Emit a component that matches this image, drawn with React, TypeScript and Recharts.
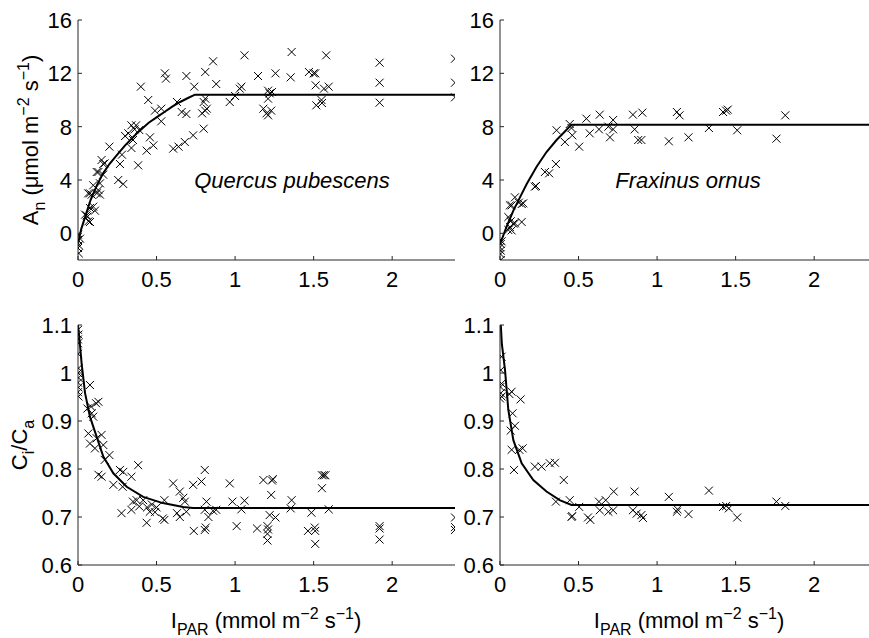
import { ComposedChart, Line, Scatter, XAxis, YAxis } from "recharts";

// ticks
const X_TICKS = [0, 0.5, 1, 1.5, 2];
const AN_TICKS = [0, 4, 8, 12, 16];
const CI_TICKS = [0.6, 0.7, 0.8, 0.9, 1, 1.1];

// Quercus pubescens, net assimilation (I_PAR, A_n)
const quercusAn: [number, number][] = [
  [0, -0.1], [0, -0.5], [0.005, -0.9], [0, -1.1], [0.005, -1.5], [0.013, -0.4],
  [0.06, 1.25], [0.066, 0.9], [0.076, 0.85], [0.055, 1.35], [0.045, 1.4], [0.076, 1.9], [0.097, 2.0], [0.108, 1.7],
  [0.076, 3.0], [0.087, 2.9], [0.065, 3.0], [0.12, 3.0], [0.097, 3.6], [0.13, 3.25], [0.14, 2.9], [0.14, 3.75],
  [0.13, 4.6], [0.16, 4.4], [0.119, 4.6], [0.161, 5.2], [0.17, 5.25], [0.15, 5.5], [0.2, 6.5],
  [0.256, 4.0], [0.288, 3.7], [0.267, 5.2], [0.28, 5.9], [0.3, 7.3], [0.34, 6.4], [0.35, 7.0], [0.32, 7.5],
  [0.34, 8.1], [0.37, 8.1], [0.39, 7.75], [0.36, 7.8],
  [0.383, 5.1], [0.4, 11.0], [0.447, 10.0], [0.437, 6.2], [0.458, 7.2], [0.48, 6.6], [0.49, 9.2], [0.53, 9.35],
  [0.53, 8.4], [0.553, 12.0], [0.56, 11.6],
  [0.606, 6.35], [0.64, 6.5], [0.68, 6.85], [0.733, 7.35], [0.63, 9.85], [0.66, 9.1], [0.69, 8.95], [0.69, 11.8], [0.74, 11.0],
  [0.81, 12.1], [0.86, 12.9], [0.88, 11.2], [0.8, 7.85], [0.79, 9.0], [0.81, 9.2], [0.8, 9.85], [0.82, 9.35], [0.81, 10.1],
  [0.966, 9.85], [1.0, 10.3], [1.03, 10.85], [1.04, 11.0], [1.06, 13.35], [1.146, 11.8],
  [1.18, 9.35], [1.2, 9.0], [1.21, 8.85], [1.23, 9.2], [1.21, 10.7], [1.22, 10.5], [1.235, 10.6], [1.21, 10.1],
  [1.257, 12.0], [1.36, 13.6], [1.354, 11.7], [1.47, 12.1], [1.5, 12.0], [1.51, 12.0], [1.513, 11.1], [1.517, 9.6],
  [1.553, 9.77], [1.55, 10.0], [1.566, 10.85], [1.596, 11.0], [1.58, 13.35],
  [1.92, 12.8], [1.92, 11.3], [1.92, 9.8], [2.4, 13.1], [2.4, 11.3], [2.4, 10.2],
];
const quercusAnFit: [number, number][] = [
  [0, -0.8], [0.02, 0.3], [0.05, 1.4], [0.08, 2.5], [0.12, 3.6], [0.16, 4.5], [0.2, 5.2], [0.25, 5.9],
  [0.3, 6.6], [0.375, 7.5], [0.45, 8.3], [0.5, 8.7], [0.55, 9.1], [0.6, 9.5], [0.65, 9.85], [0.7, 10.15],
  [0.745, 10.4], [2.4, 10.4],
];

// Fraxinus ornus, net assimilation
const fraxinusAn: [number, number][] = [
  [0, -0.5], [0.005, -0.8], [0, -1.05], [0.005, -1.3], [0.003, -1.55], [0.005, -2.0], [0.01, -0.6],
  [0.053, 0.25], [0.068, 0.9], [0.074, 0.22], [0.085, 0.73], [0.063, 0.47], [0.138, 0.85], [0.053, 1.22], [0.095, 0.75],
  [0.074, 2.1], [0.095, 2.7], [0.063, 2.1], [0.12, 2.3], [0.138, 2.2], [0.148, 2.25],
  [0.222, 3.5], [0.229, 3.55], [0.286, 4.6], [0.313, 4.5], [0.356, 5.2], [0.36, 7.73], [0.413, 6.85], [0.444, 8.2],
  [0.455, 7.9], [0.46, 7.35], [0.504, 6.5],
  [0.55, 8.6], [0.571, 7.5], [0.635, 8.9], [0.63, 7.8], [0.69, 8.0], [0.7, 7.2], [0.72, 8.5], [0.72, 7.8],
  [0.846, 8.9], [0.857, 7.8], [0.88, 7.0], [0.9, 7.0], [0.906, 9.05],
  [1.075, 6.9], [1.126, 9.1], [1.143, 8.85], [1.2, 7.2], [1.33, 7.9], [1.42, 9.1], [1.45, 9.28], [1.44, 9.2],
  [1.51, 7.73], [1.76, 7.1], [1.816, 8.85],
];
const fraxinusAnFit: [number, number][] = [
  [0, -0.8], [0.01, -0.5], [0.042, 0.5], [0.085, 1.7], [0.127, 2.7], [0.17, 3.7], [0.233, 5.0], [0.296, 6.1],
  [0.36, 7.0], [0.41, 7.6], [0.455, 8.15], [2.4, 8.15],
];

// Quercus pubescens, Ci/Ca
const quercusCi: [number, number][] = [
  [0, 1.09], [0.003, 1.08], [0, 1.07], [0, 1.062], [0, 1.04], [0.003, 1.01], [0, 1.0], [0.003, 0.99], [0, 0.98],
  [0.003, 0.97], [0, 0.96], [0.003, 0.951],
  [0.076, 0.975], [0.06, 0.926], [0.083, 0.93], [0.087, 0.916], [0.097, 0.909], [0.115, 0.937], [0.13, 0.94],
  [0.066, 0.874], [0.076, 0.853], [0.108, 0.843], [0.15, 0.871], [0.119, 0.864], [0.161, 0.85], [0.2, 0.829],
  [0.17, 0.819], [0.13, 0.788], [0.15, 0.784],
  [0.225, 0.767], [0.267, 0.798], [0.288, 0.794], [0.34, 0.784], [0.284, 0.763], [0.383, 0.808], [0.277, 0.708],
  [0.34, 0.715], [0.35, 0.732], [0.373, 0.735], [0.39, 0.722], [0.415, 0.735], [0.437, 0.688], [0.44, 0.72],
  [0.457, 0.711], [0.47, 0.726], [0.49, 0.71], [0.5, 0.72], [0.54, 0.697], [0.55, 0.694], [0.55, 0.735],
  [0.606, 0.77], [0.648, 0.753], [0.67, 0.74], [0.68, 0.732], [0.63, 0.708], [0.648, 0.7], [0.69, 0.711],
  [0.733, 0.767], [0.786, 0.774], [0.807, 0.798],
  [0.737, 0.671], [0.807, 0.673], [0.813, 0.678], [0.818, 0.732], [0.807, 0.715], [0.83, 0.7], [0.86, 0.713], [0.88, 0.715],
  [0.966, 0.77], [0.983, 0.732], [1.01, 0.681], [1.04, 0.716], [1.06, 0.734],
  [1.14, 0.676], [1.18, 0.777], [1.235, 0.776], [1.24, 0.779], [1.23, 0.746], [1.22, 0.704], [1.257, 0.699],
  [1.206, 0.681], [1.21, 0.674], [1.206, 0.665], [1.206, 0.651],
  [1.36, 0.735], [1.354, 0.718], [1.486, 0.709], [1.464, 0.671], [1.507, 0.678], [1.51, 0.671], [1.51, 0.644],
  [1.553, 0.76], [1.553, 0.787], [1.575, 0.787], [1.565, 0.787], [1.596, 0.716],
  [1.92, 0.681], [1.92, 0.676], [1.92, 0.653], [2.4, 0.699], [2.4, 0.679], [2.4, 0.673],
];
const quercusCiFit: [number, number][] = [
  [0, 1.1], [0.012, 1.06], [0.023, 1.02], [0.045, 0.958], [0.076, 0.909], [0.119, 0.867], [0.161, 0.826],
  [0.225, 0.791], [0.31, 0.763], [0.415, 0.742], [0.54, 0.729], [0.67, 0.721], [0.733, 0.719], [2.4, 0.719],
];

// Fraxinus ornus, Ci/Ca
const fraxinusCi: [number, number][] = [
  [0.01, 1.034], [0.005, 1.006], [0.01, 0.978], [0.003, 0.971], [0.005, 0.958], [0.01, 0.951], [0, 0.947],
  [0.074, 0.961], [0.06, 0.956], [0.131, 0.945], [0.08, 0.916], [0.095, 0.89], [0.068, 0.88], [0.074, 0.84],
  [0.089, 0.798], [0.123, 0.84], [0.144, 0.843],
  [0.222, 0.805], [0.265, 0.805], [0.317, 0.812], [0.35, 0.813], [0.406, 0.777], [0.356, 0.732], [0.444, 0.735],
  [0.455, 0.7], [0.46, 0.702], [0.504, 0.721], [0.56, 0.699], [0.575, 0.694],
  [0.63, 0.732], [0.673, 0.735], [0.635, 0.714], [0.69, 0.711], [0.72, 0.714], [0.724, 0.753], [0.857, 0.753],
  [0.846, 0.714], [0.87, 0.707], [0.9, 0.704], [0.91, 0.698],
  [1.075, 0.742], [1.13, 0.716], [1.126, 0.711], [1.2, 0.706], [1.33, 0.755], [1.42, 0.721], [1.44, 0.723],
  [1.457, 0.718], [1.51, 0.699], [1.76, 0.732], [1.816, 0.723],
];
const fraxinusCiFit: [number, number][] = [
  [0.005, 1.1], [0.012, 1.06], [0.032, 1.006], [0.053, 0.923], [0.085, 0.86], [0.138, 0.812], [0.212, 0.777],
  [0.296, 0.753], [0.38, 0.735], [0.455, 0.725], [2.4, 0.725],
];

const FONT = "'Liberation Sans', Arial, Helvetica, sans-serif";
const AXIS = "#262626";
const FS = 22;

const toRows = (arr: [number, number][]) => arr.map(([x, y]) => ({ x, y }));

function XTick(props: any) {
  const { x, y, payload } = props;
  return (
    <g>
      <line x1={x} x2={x} y1={y} y2={y - 4} stroke={AXIS} />
      <text x={x} y={y + 27} textAnchor="middle" fontSize={FS} fontFamily={FONT} fill="#000">
        {String(payload.value)}
      </text>
    </g>
  );
}

function YTick(props: any) {
  const { x, y, payload } = props;
  return (
    <g>
      <line x1={x} x2={x + 4} y1={y} y2={y} stroke={AXIS} />
      <text x={x - 6} y={y} dy="0.36em" textAnchor="end" fontSize={FS} fontFamily={FONT} fill="#000">
        {String(payload.value)}
      </text>
    </g>
  );
}

function Cross(props: any) {
  const { cx, cy } = props;
  if (cx == null || cy == null) return null;
  const r = 4;
  return (
    <path
      d={`M${cx - r},${cy - r}L${cx + r},${cy + r}M${cx - r},${cy + r}L${cx + r},${cy - r}`}
      stroke="#000"
      strokeWidth={1}
      fill="none"
    />
  );
}

type Part = [string, number]; // 0 normal, 1 superscript, -1 subscript

function Rich({ x, y, parts, rotate, italic }: { x: number; y: number; parts: Part[]; rotate?: boolean; italic?: boolean }) {
  let prev = 0;
  return (
    <text
      x={x}
      y={y}
      textAnchor="middle"
      fontFamily={FONT}
      fontSize={FS}
      fontStyle={italic ? "italic" : "normal"}
      fill="#000"
      transform={rotate ? `rotate(-90 ${x} ${y})` : undefined}
    >
      {parts.map(([t, k], i) => {
        const shift = k === 1 ? -9 : k === -1 ? 7 : 0;
        const dy = shift - prev;
        prev = shift;
        return (
          <tspan key={i} dy={dy} fontSize={k ? 16 : FS}>
            {t}
          </tspan>
        );
      })}
    </text>
  );
}

function Panel({
  left,
  top,
  points,
  fit,
  yDomain,
  yTicks,
}: {
  left: number;
  top: number;
  points: [number, number][];
  fit: [number, number][];
  yDomain: [number, number];
  yTicks: number[];
}) {
  return (
    <div style={{ position: "absolute", left, top }}>
      <ComposedChart width={460} height={300} margin={{ top: 20, right: 5, bottom: 0, left: 0 }}>
        <XAxis
          type="number"
          dataKey="x"
          domain={[0, 2.4]}
          ticks={X_TICKS}
          allowDataOverflow
          tick={<XTick />}
          tickLine={false}
          tickSize={0}
          tickMargin={0}
          axisLine={{ stroke: AXIS }}
          height={40}
        />
        <YAxis
          type="number"
          dataKey="y"
          domain={yDomain}
          ticks={yTicks}
          allowDataOverflow
          tick={<YTick />}
          tickLine={false}
          tickSize={0}
          tickMargin={0}
          axisLine={{ stroke: AXIS }}
          width={78}
        />
        <Line
          data={toRows(fit)}
          dataKey="y"
          type="linear"
          stroke="#000"
          strokeWidth={2}
          dot={false}
          activeDot={false}
          isAnimationActive={false}
        />
        <Scatter data={toRows(points)} dataKey="y" shape={<Cross />} isAnimationActive={false} />
      </ComposedChart>
    </div>
  );
}

const UNITS_TAIL: Part[] = [[" m", 0], ["\u22122", 1], [" s", 0], ["\u22121", 1], [")", 0]];

export default function App() {
  return (
    <div
      style={{
        position: "fixed",
        left: 0,
        top: 0,
        width: 869,
        height: 638,
        overflow: "hidden",
        background: "#fff",
        fontFamily: FONT,
      }}
    >
      <Panel left={0} top={0} points={quercusAn} fit={quercusAnFit} yDomain={[-2, 16]} yTicks={AN_TICKS} />
      <Panel left={422} top={0} points={fraxinusAn} fit={fraxinusAnFit} yDomain={[-2, 16]} yTicks={AN_TICKS} />
      <Panel left={0} top={305} points={quercusCi} fit={quercusCiFit} yDomain={[0.6, 1.1]} yTicks={CI_TICKS} />
      <Panel left={422} top={305} points={fraxinusCi} fit={fraxinusCiFit} yDomain={[0.6, 1.1]} yTicks={CI_TICKS} />
      <svg width={869} height={638} style={{ position: "absolute", left: 0, top: 0, pointerEvents: "none" }}>
        <Rich x={38} y={140} rotate parts={[["A", 0], ["n", -1], [" (\u03bcmol", 0], ...UNITS_TAIL]} />
        <Rich x={27} y={445} rotate parts={[["C", 0], ["i", -1], ["/C", 0], ["a", -1]]} />
        <Rich x={266} y={628} parts={[["I", 0], ["PAR", -1], [" (mmol", 0], ...UNITS_TAIL]} />
        <Rich x={689} y={628} parts={[["I", 0], ["PAR", -1], [" (mmol", 0], ...UNITS_TAIL]} />
        <Rich x={292} y={188} italic parts={[["Quercus pubescens", 0]]} />
        <Rich x={688} y={188} italic parts={[["Fraxinus ornus", 0]]} />
      </svg>
    </div>
  );
}
